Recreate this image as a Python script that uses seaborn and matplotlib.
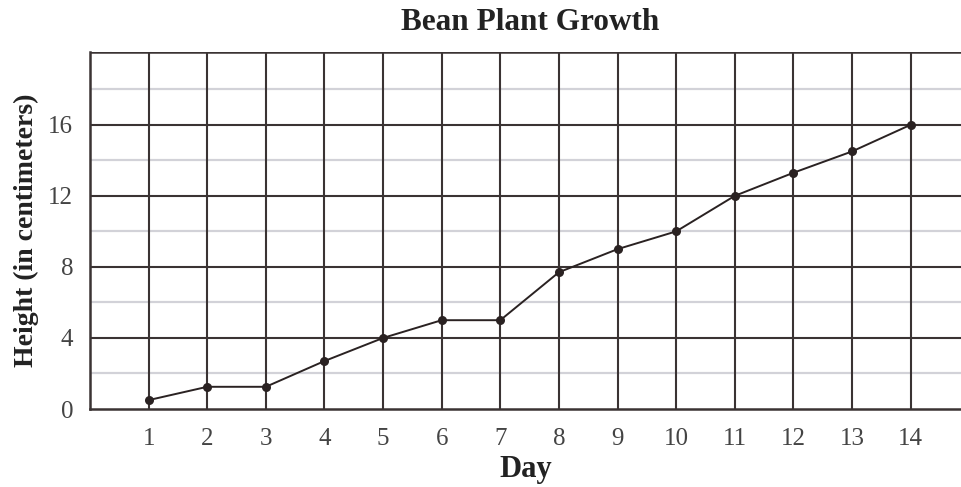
import numpy as np
import pandas as pd
import matplotlib
matplotlib.use("Agg")
import matplotlib.pyplot as plt
import seaborn as sns

# data
days = [1, 2, 3, 4, 5, 6, 7, 8, 9, 10, 11, 12, 13, 14]
height_cm = [0.5, 1.25, 1.25, 2.7, 4.0, 5.0, 5.0, 7.7, 9.0, 10.0, 12.0, 13.3, 14.5, 16.0]
y_major = [0, 4, 8, 12, 16]
y_minor = [2, 6, 10, 14, 18]

df = pd.DataFrame({"Day": days, "Height": height_cm})

sns.set_style("white")
plt.rcParams["font.family"] = ["Liberation Serif", "DejaVu Serif"]

dark = "#3a3333"
light = "#d2d2d8"

fig = plt.figure(figsize=(9.61, 4.87), dpi=100)
ax = fig.add_axes([90 / 961, 1 - 409 / 487, 1 - 90 / 961, (409 - 52) / 487])

# grid
for v in y_minor:
    ax.axhline(v, color=light, lw=1.6, zorder=1)
for v in y_major[1:]:
    ax.axhline(v, color=dark, lw=1.5, zorder=2)
for d in days:
    ax.axvline(d, color=dark, lw=1.5, zorder=2)
ax.axhline(20.1, color=dark, lw=1.8, zorder=2)

sns.lineplot(data=df, x="Day", y="Height", ax=ax, color="#2a2222", lw=1.4,
             marker="o", markersize=6.5, markeredgewidth=0, zorder=5)

ax.set_xlim(0, 14.86)
ax.set_ylim(0, 20.1)
ax.set_xticks(days)
ax.set_yticks(y_major)
ax.tick_params(axis="x", length=0, pad=14, labelsize=18, labelcolor="#444444")
ax.tick_params(axis="y", length=4, width=1.5, color=dark, direction="out",
               pad=8, labelsize=18, labelcolor="#444444")
for s in ["left", "bottom"]:
    ax.spines[s].set_color(dark)
    ax.spines[s].set_linewidth(1.8)
for s in ["right", "top"]:
    ax.spines[s].set_visible(False)

ax.set_xlabel("Day", fontsize=22, fontweight="bold", color="#222222", labelpad=3)
ax.set_ylabel("Height (in centimeters)", fontsize=20, fontweight="bold",
              color="#222222", labelpad=7)
fig.text(530 / 961, 1 - 22 / 487, "Bean Plant Growth", ha="center", va="center",
         fontsize=22.5, fontweight="bold", color="#222222")

fig.savefig("out.png", dpi=100)
